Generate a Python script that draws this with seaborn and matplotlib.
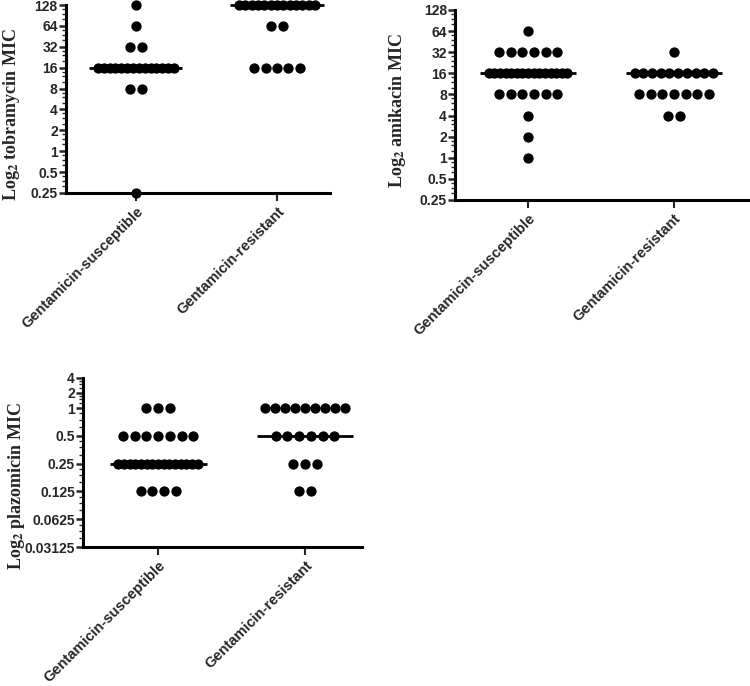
import numpy as np
import pandas as pd
import matplotlib
matplotlib.use("Agg")
import matplotlib.pyplot as plt
import seaborn as sns

sns.set_style("white")
plt.rcParams['font.family'] = ['Liberation Sans', 'DejaVu Sans']
plt.rcParams['mathtext.fontset'] = 'stix'

groups = ['Gentamicin-susceptible', 'Gentamicin-resistant']

# MIC values and how many isolates sit at each value
tobra_sus_vals = [128, 64, 32, 16, 8, 0.25]
tobra_sus_n = [1, 1, 2, 14, 2, 1]
tobra_res_vals = [128, 64, 16]
tobra_res_n = [13, 2, 5]

amik_sus_vals = [64, 32, 16, 8, 4, 2, 1]
amik_sus_n = [1, 6, 15, 6, 1, 1, 1]
amik_res_vals = [32, 16, 8, 4]
amik_res_n = [1, 10, 7, 2]

plazo_sus_vals = [1, 0.5, 0.25, 0.125]
plazo_sus_n = [3, 7, 15, 4]
plazo_res_vals = [1, 0.5, 0.25, 0.125]
plazo_res_n = [9, 6, 3, 2]

tobra_ticks = [128, 64, 32, 16, 8, 4, 2, 1, 0.5, 0.25]
amik_ticks = [128, 64, 32, 16, 8, 4, 2, 1, 0.5, 0.25]
plazo_ticks = [4, 2, 1, 0.5, 0.25, 0.125, 0.0625, 0.03125]


def make_df(sus_vals, sus_n, res_vals, res_n):
    rows = []
    for gi, (vals, ns) in enumerate([(sus_vals, sus_n), (res_vals, res_n)]):
        for v, n in zip(vals, ns):
            # spread a row of equal values side by side, squeezing long rows
            step = min(0.08, 0.54 / max(n - 1, 1))
            offs = (np.arange(n) - (n - 1) / 2) * step
            for o in offs:
                rows.append({'group': groups[gi], 'gidx': gi, 'x': gi + o, 'MIC': v})
    return pd.DataFrame(rows)


def draw(ax, df, ticks, ylabel, xlim, lab_xy, scale=None):
    if scale is None:
        ax.set_yscale('log', base=2)
    else:
        ax.set_yscale('function', functions=scale)
    sns.scatterplot(data=df, x='x', y='MIC', ax=ax, color='black', s=55,
                    linewidth=0, clip_on=False, zorder=3)
    med = df.groupby('gidx')['MIC'].median()
    ax.hlines(med.values, med.index - 0.33, med.index + 0.33, color='black',
              lw=2, zorder=2, clip_on=False)
    ax.set_ylim(min(ticks), max(ticks))
    ax.set_xlim(*xlim)
    ax.set_yticks(ticks)
    ax.set_yticklabels([('%g' % t) for t in ticks], fontsize=10, fontweight='bold')
    minor = [t * m for t in ticks[1:] for m in (1.25, 1.5, 1.75)]
    ax.set_yticks(minor, minor=True)
    ax.set_xticks([0, 1])
    ax.set_xticklabels(groups, rotation=45, ha='right', rotation_mode='anchor',
                       fontsize=10.5, fontweight='bold')
    ax.set_xlabel('')
    ax.set_ylabel(ylabel, fontsize=13, fontweight='bold', family='Liberation Serif')
    ax.yaxis.set_label_coords(*lab_xy)
    for s in ['top', 'right']:
        ax.spines[s].set_visible(False)
    for s in ['left', 'bottom']:
        ax.spines[s].set_linewidth(2.2)
        ax.spines[s].set_color('black')
    ax.tick_params(axis='y', which='major', length=5, width=1.8, pad=1, left=True)
    ax.tick_params(axis='y', which='minor', length=3, width=1, left=True)
    ax.tick_params(axis='x', length=6, width=1.5, pad=2, bottom=True)
    ax.yaxis.set_minor_formatter(matplotlib.ticker.NullFormatter())


def fwd(y):
    t = np.log2(np.clip(y, 1e-9, None))
    return np.where(t <= 0, t, 0.54 * t)


def inv(t):
    return np.where(t <= 0, 2.0 ** t, 2.0 ** (t / 0.54))


fig = plt.figure(figsize=(7.5, 6.86), dpi=100)
ax1 = fig.add_axes([0.088, 0.7187, 0.352, 0.274])
ax2 = fig.add_axes([0.607, 0.7085, 0.39, 0.277])
ax3 = fig.add_axes([0.111, 0.2026, 0.372, 0.2464])

draw(ax1, make_df(tobra_sus_vals, tobra_sus_n, tobra_res_vals, tobra_res_n),
     tobra_ticks, r'Log$_\mathbf{2}$ tobramycin MIC', (-0.496, 1.376), (-0.165, 0.415))
draw(ax2, make_df(amik_sus_vals, amik_sus_n, amik_res_vals, amik_res_n),
     amik_ticks, r'Log$_\mathbf{2}$ amikacin MIC', (-0.5, 1.507), (-0.16, 0.47))
draw(ax3, make_df(plazo_sus_vals, plazo_sus_n, plazo_res_vals, plazo_res_n),
     plazo_ticks, r'Log$_\mathbf{2}$ plazomicin MIC', (-0.51, 1.39), (-0.2, 0.36),
     scale=(fwd, inv))

fig.savefig('out.png', dpi=100)
